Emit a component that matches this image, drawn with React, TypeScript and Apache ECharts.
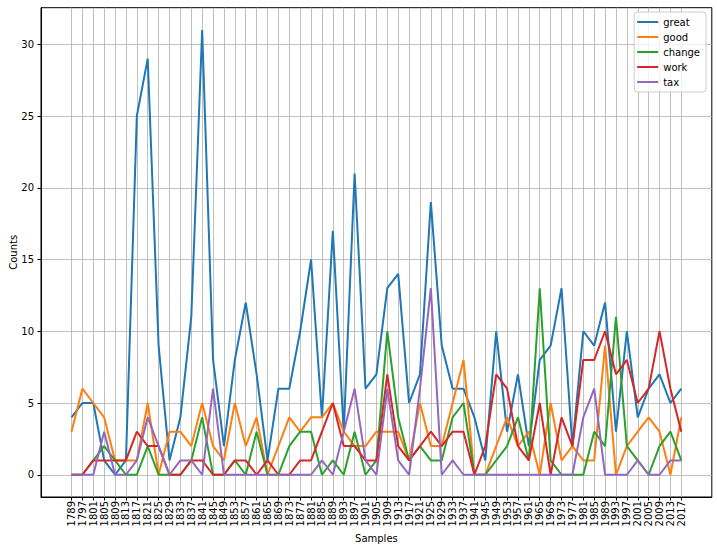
import React, { useEffect, useRef } from "react";
import * as echarts from "echarts";

const years = [
  "1789", "1797", "1801", "1805", "1809", "1813", "1817", "1821", "1825", "1829",
  "1833", "1837", "1841", "1845", "1849", "1853", "1857", "1861", "1865", "1869",
  "1873", "1877", "1881", "1885", "1889", "1893", "1897", "1901", "1905", "1909",
  "1913", "1917", "1921", "1925", "1929", "1933", "1937", "1941", "1945", "1949",
  "1953", "1957", "1961", "1965", "1969", "1973", "1977", "1981", "1985", "1989",
  "1993", "1997", "2001", "2005", "2009", "2013", "2017",
];

const great = [
  4, 5, 5, 1, 0, 1, 25, 29, 9, 1,
  4, 11, 31, 8, 2, 8, 12, 7, 1, 6,
  6, 10, 15, 4, 17, 3, 21, 6, 7, 13,
  14, 5, 7, 19, 9, 6, 6, 4, 1, 10,
  3, 7, 2, 8, 9, 13, 2, 10, 9, 12,
  3, 10, 4, 6, 7, 5, 6,
];
const good = [
  3, 6, 5, 4, 1, 1, 1, 5, 0, 3,
  3, 2, 5, 2, 1, 5, 2, 4, 0, 2,
  4, 3, 4, 4, 5, 3, 2, 2, 3, 3,
  3, 1, 5, 2, 2, 5, 8, 0, 0, 2,
  4, 2, 3, 0, 5, 1, 2, 1, 1, 9,
  0, 2, 3, 4, 3, 0, 4,
];
const change = [
  0, 0, 1, 2, 1, 0, 0, 2, 0, 0,
  0, 1, 4, 0, 0, 1, 0, 3, 0, 0,
  2, 3, 3, 0, 1, 0, 3, 0, 1, 10,
  4, 1, 2, 1, 1, 4, 5, 0, 0, 1,
  2, 4, 1, 13, 1, 0, 0, 0, 3, 2,
  11, 2, 1, 0, 2, 3, 1,
];
const work = [
  0, 0, 1, 1, 1, 1, 3, 2, 2, 0,
  0, 1, 1, 0, 0, 1, 1, 0, 1, 0,
  0, 1, 1, 3, 5, 2, 2, 1, 1, 7,
  2, 1, 2, 3, 2, 3, 3, 0, 2, 7,
  6, 2, 1, 5, 0, 4, 2, 8, 8, 10,
  7, 8, 5, 6, 10, 6, 3,
];
const tax = [
  0, 0, 0, 3, 0, 0, 1, 4, 2, 0,
  1, 1, 0, 6, 0, 0, 0, 0, 0, 0,
  0, 0, 0, 1, 0, 3, 6, 1, 0, 6,
  1, 0, 6, 13, 0, 1, 0, 0, 0, 0,
  0, 0, 0, 0, 0, 0, 0, 4, 6, 0,
  0, 0, 1, 0, 0, 1, 1,
];

const seriesNames = ["great", "good", "change", "work", "tax"];
const seriesValues = [great, good, change, work, tax];
const colors = ["#1f77b4", "#ff7f0e", "#2ca02c", "#d62728", "#9467bd"];
const yTicks = [0, 5, 10, 15, 20, 25, 30];

const FONT = "DejaVu Sans";

export default function App() {
  const ref = useRef<HTMLDivElement>(null);
  useEffect(() => {
    if (!ref.current) return;
    const chart = echarts.init(ref.current, undefined, { renderer: "svg" });
    const idx = years.map((_, i) => i);
    chart.setOption({
      animation: false,
      color: colors,
      grid: {
        left: 41,
        right: 5.2,
        top: 7.7,
        bottom: 53,
        outerBoundsMode: "none",
        containLabel: false,
        show: true,
        borderColor: "#000",
        borderWidth: 1,
        backgroundColor: "transparent",
      },
      legend: {
        orient: "vertical",
        right: 11,
        top: 12,
        data: seriesNames,
        icon: "rect",
        itemWidth: 21,
        itemHeight: 2,
        itemGap: 3,
        padding: [4, 6, 4, 3],
        borderColor: "#cccccc",
        borderWidth: 1,
        borderRadius: 3,
        backgroundColor: "rgba(255,255,255,0.8)",
        textStyle: { fontFamily: FONT, fontSize: 10, color: "#000", lineHeight: 12 },
      },
      xAxis: {
        type: "value",
        min: -2.8,
        max: 58.8,
        interval: 1.4,
        name: "Samples",
        nameLocation: "middle",
        nameGap: 36,
        nameMoveOverlap: false,
        nameTextStyle: { fontFamily: FONT, fontSize: 10, color: "#000" },
        axisLine: { show: true, onZero: false, lineStyle: { color: "#000", width: 1 } },
        axisTick: { show: true, customValues: idx, length: 3.5, lineStyle: { color: "#000" } },
        axisLabel: {
          customValues: idx,
          rotate: 90,
          margin: 4,
          fontFamily: FONT,
          fontSize: 10,
          color: "#000",
          formatter: (v: number) => years[Math.round(v)] ?? "",
        },
        splitLine: { show: true, lineStyle: { color: "#b0b0b0", width: 0.8 } },
      },
      yAxis: {
        type: "value",
        min: -1.55,
        max: 32.55,
        name: "Counts",
        nameLocation: "middle",
        nameGap: 23,
        nameMoveOverlap: false,
        nameTextStyle: { fontFamily: FONT, fontSize: 10, color: "#000" },
        axisLine: { show: true, onZero: false, lineStyle: { color: "#000", width: 1 } },
        axisTick: { show: true, customValues: yTicks, length: 3.5, lineStyle: { color: "#000" } },
        axisLabel: {
          customValues: yTicks,
          margin: 7,
          fontFamily: FONT,
          fontSize: 10,
          color: "#000",
        },
        splitLine: { show: true, lineStyle: { color: "#b0b0b0", width: 0.8 } },
      },
      series: seriesNames.map((name, s) => ({
        name,
        type: "line",
        data: seriesValues[s].map((v, i) => [i, v]),
        symbol: "none",
        showSymbol: false,
        lineStyle: { width: 2, color: colors[s] },
        itemStyle: { color: colors[s] },
      })),
    });
    return () => chart.dispose();
  }, []);
  return <div ref={ref} style={{ width: 717, height: 550, position: "absolute", left: 0, top: 0 }} />;
}
